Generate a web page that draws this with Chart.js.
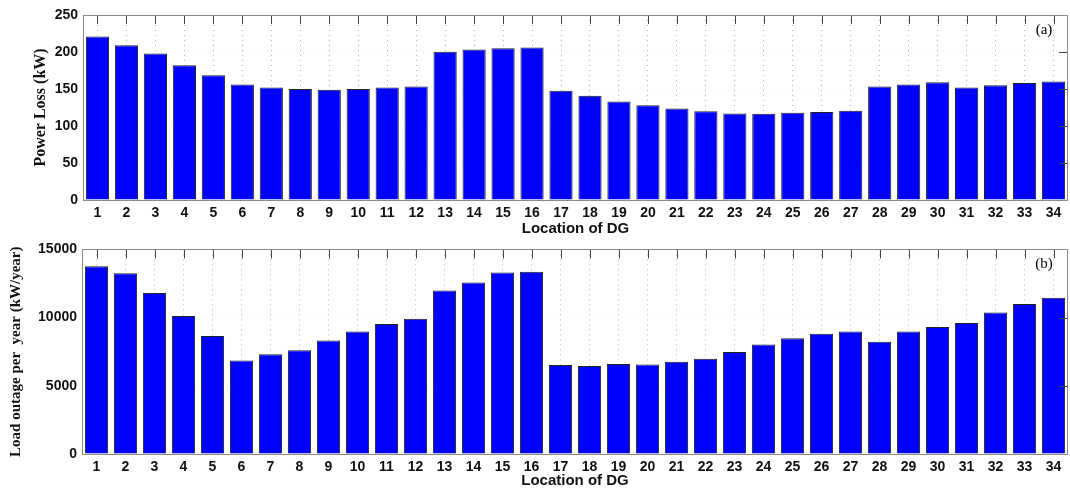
<!DOCTYPE html>
<html>
<head>
<meta charset="utf-8">
<script src="https://cdn.jsdelivr.net/npm/chart.js@4.4.1/dist/chart.umd.min.js"></script>
<style>
  html,body{margin:0;padding:0;background:#fff;}
  #wrapA{position:absolute;left:0;top:0;width:1070px;height:236px;}
  #wrapB{position:absolute;left:0;top:236px;width:1070px;height:252px;}
</style>
</head>
<body>
<div id="wrapA"><canvas id="chartA"></canvas></div>
<div id="wrapB"><canvas id="chartB"></canvas></div>
<script>
const locations = ["1","2","3","4","5","6","7","8","9","10","11","12","13","14","15","16","17","18","19","20","21","22","23","24","25","26","27","28","29","30","31","32","33","34"];
const powerLoss = [221,209,198,182,168.5,156,152,150,149,150,152,153.5,200.5,203.5,205,206,147.5,141,133,128,123.5,120,117,116.5,118,119,120.5,153.5,156,159,152,155,158,160];
const loadOutage = [13770,13250,11800,10120,8650,6850,7320,7600,8320,8990,9530,9910,11990,12580,13300,13370,6520,6450,6590,6570,6760,6990,7470,8030,8490,8820,8990,8230,8990,9320,9600,10380,11000,11450];
const powerTicks = [0,50,100,150,200,250];
const outageTicks = [0,5000,10000,15000];

const frame = {
  id: 'frame',
  afterDatasetsDraw(chart, args, opts) {
    const {ctx, chartArea: a, scales} = chart;
    ctx.save();
    ctx.strokeStyle = '#444';
    ctx.lineWidth = 1;
    const xs = scales.x;
    for (let i = 0; i < xs.ticks.length; i++) {
      const px = Math.round(xs.getPixelForTick(i)) + 0.5;
      ctx.beginPath(); ctx.moveTo(px, a.top); ctx.lineTo(px, a.top + 9); ctx.stroke();
    }
    const ys = scales.y;
    for (let i = 0; i < ys.ticks.length; i++) {
      const py = Math.round(ys.getPixelForTick(i)) + 0.5;
      ctx.beginPath(); ctx.moveTo(a.right, py); ctx.lineTo(a.right - 9, py); ctx.stroke();
    }
    ctx.strokeStyle = '#8a8a8a';
    ctx.strokeRect(Math.round(a.left) + 0.5, Math.round(a.top) + 0.5, Math.round(a.right - a.left) - 1, Math.round(a.bottom - a.top));
    ctx.fillStyle = '#000';
    ctx.font = '15px "Liberation Serif", "Times New Roman", serif';
    ctx.textAlign = 'center';
    ctx.textBaseline = 'middle';
    ctx.fillText(opts.label, a.right - 24, a.top + 15);
    ctx.restore();
  }
};

function makeChart(id, data, ticks, maxVal, yTitle, titleSize, label, pad, yWidth, xHeight) {
  return new Chart(document.getElementById(id), {
    type: 'bar',
    data: {
      labels: locations,
      datasets: [{
        data: data,
        backgroundColor: '#0000ff',
        borderColor: '#222222',
        borderWidth: 1,
        borderSkipped: 'bottom',
        barPercentage: 0.8,
        categoryPercentage: 1.0
      }]
    },
    options: {
      responsive: true,
      maintainAspectRatio: false,
      animation: false,
      layout: { padding: pad },
      plugins: {
        legend: { display: false },
        tooltip: { enabled: false },
        frame: { label: label }
      },
      scales: {
        x: {
          grid: { offset: false, color: '#b4b4b4', lineWidth: 1, drawTicks: false },
          border: { display: false, dash: [1, 4] },
          ticks: { color: '#111', font: { family: '"Liberation Sans", Arial, sans-serif', size: 14, weight: 'bold' }, padding: 5, maxRotation: 0, autoSkip: false },
          title: { display: true, text: 'Location of DG', color: '#111', font: { family: '"Liberation Sans", Arial, sans-serif', size: 15, weight: 'bold' }, padding: { top: 0, bottom: -2 } },
          afterFit(s) { s.height = xHeight; }
        },
        y: {
          min: 0, max: maxVal,
          afterBuildTicks(s) { s.ticks = ticks.map(v => ({ value: v })); },
          grid: { color: '#efefef', lineWidth: 1, drawTicks: false },
          border: { display: false, dash: [1, 4] },
          ticks: { color: '#111', font: { family: '"Liberation Sans", Arial, sans-serif', size: 14, weight: 'bold' }, padding: 5, callback: v => String(v) },
          title: { display: true, text: yTitle, color: '#111', font: { family: '"Liberation Serif", "Times New Roman", serif', size: titleSize, weight: 'bold' }, padding: { top: 0, bottom: 0 } },
          afterFit(s) { s.width = yWidth; }
        }
      }
    },
    plugins: [frame]
  });
}

makeChart('chartA', powerLoss, powerTicks, 250, 'Power Loss (kW)', 16, '(a)', { top: 15, left: 31, right: 2, bottom: 0 }, 52, 36);
makeChart('chartB', loadOutage, outageTicks, 15000, 'Load outage per  year (kW/year)', 15, '(b)', { top: 7, left: 7, right: 2, bottom: 0 }, 75, 34);
</script>
</body>
</html>
